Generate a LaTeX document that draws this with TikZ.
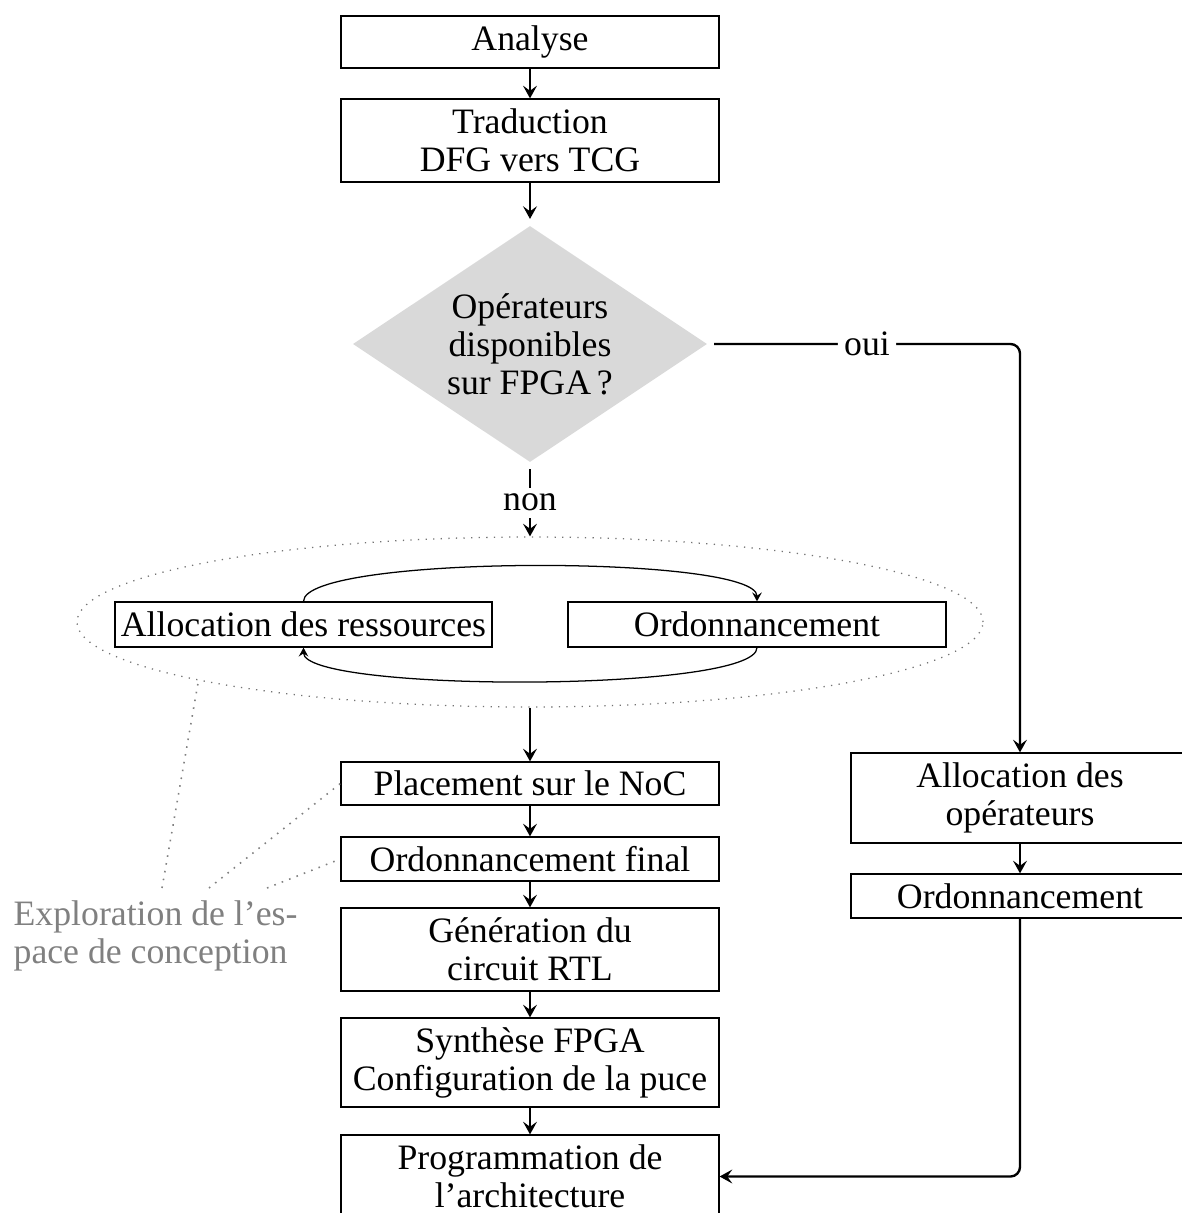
\documentclass[tikz,border=0pt]{standalone}
\usepackage{fontspec}
\setmainfont{Liberation Serif}
\usetikzlibrary{shapes.geometric,arrows.meta}
\def\px{0.3162pt}
\begin{document}
\begin{tikzpicture}[x=\px, y=-\px, font=\fontsize{11.3pt}{12pt}\selectfont,
  box/.style={draw, line width=0.4pt, align=center, inner sep=0pt, minimum width=378*\px},
  arr/.style={-{Stealth[length=4pt,width=4.4pt,inset=1.6pt]}, line width=0.75pt},
  thinarr/.style={-{Stealth[length=2.8pt,width=3pt,inset=1pt]}, line width=0.4pt},
  dotl/.style={draw=black!50, dotted, line width=0.5pt},
  lab/.style={text=black!50, align=left, inner sep=0pt},
  lbl/.style={fill=white, inner sep=2pt}]
\useasboundingbox (0,0) rectangle (1181,1213);
\node[box, minimum height=52*\px] (ana) at (530,42) {Analyse};
\node[box, minimum height=83*\px] (tra) at (530,140.5) {Traduction\\DFG vers TCG};
\node[diamond, fill=black!15, aspect=1.49, inner sep=0pt, minimum width=358*\px,
      minimum height=240*\px, outer sep=1.6pt, align=center] (dec) at (530,344)
      {Opérateurs\\disponibles\\sur FPGA\,?};
\node[ellipse, draw=black!55, dotted, line width=0.4pt, minimum width=906*\px,
      minimum height=170*\px, inner sep=0pt] (ell) at (530,622) {};
\node[box, minimum width=377*\px, minimum height=45*\px] (ara) at (303.5,624.5) {Allocation des ressources};
\node[box, minimum height=45*\px] (or1) at (757,624.5) {Ordonnancement};
\node[box, minimum height=43*\px] (pla) at (530,783.5) {Placement sur le NoC};
\node[box, minimum height=44*\px] (orf) at (530,859) {Ordonnancement final};
\node[box, minimum height=83*\px] (gen) at (530,949.5) {Génération du\\circuit RTL};
\node[box, minimum height=89*\px] (syn) at (530,1062.5) {Synthèse FPGA\\Configuration de la puce};
\node[box, minimum height=83*\px] (pro) at (530,1176.5) {Programmation de\\l'architecture};
\node[box, minimum width=338*\px, minimum height=90*\px] (aop) at (1020,798) {Allocation des\\opérateurs};
\node[box, minimum width=338*\px, minimum height=44*\px] (or2) at (1020,896) {Ordonnancement};
\node[lab, anchor=north west] (lab) at (13,900) {Exploration de l'es-\\pace de conception};
\coordinate (l1) at (162,888);
\coordinate (l2) at (209,888);
\coordinate (l3) at (267,888);

\draw[arr] (ana) -- (tra);
\draw[arr] (tra) -- (dec);
\draw[arr] (dec) -- node[lbl]{non} (ell);
\draw[arr] (ell) -- (pla);
\draw[arr] (pla) -- (orf);
\draw[arr] (orf) -- (gen);
\draw[arr] (gen) -- (syn);
\draw[arr] (syn) -- (pro);
\draw[arr, rounded corners=3pt] (dec.east) -| node[lbl, pos=0.25]{oui} (aop.north);
\draw[arr] (aop) -- (or2);
\draw[arr, rounded corners=3pt] (or2.south) |- (pro.east);
\draw[thinarr] (ara.north) .. controls +(0,-47) and +(0,-47) .. (or1.north);
\draw[thinarr] (or1.south) .. controls +(0,45) and +(0,45) .. (ara.south);
\draw[dotl] (l1) -- (ell.190);
\draw[dotl] (l2) -- (pla.west);
\draw[dotl] (l3) -- (orf.west);
\end{tikzpicture}
\end{document}
